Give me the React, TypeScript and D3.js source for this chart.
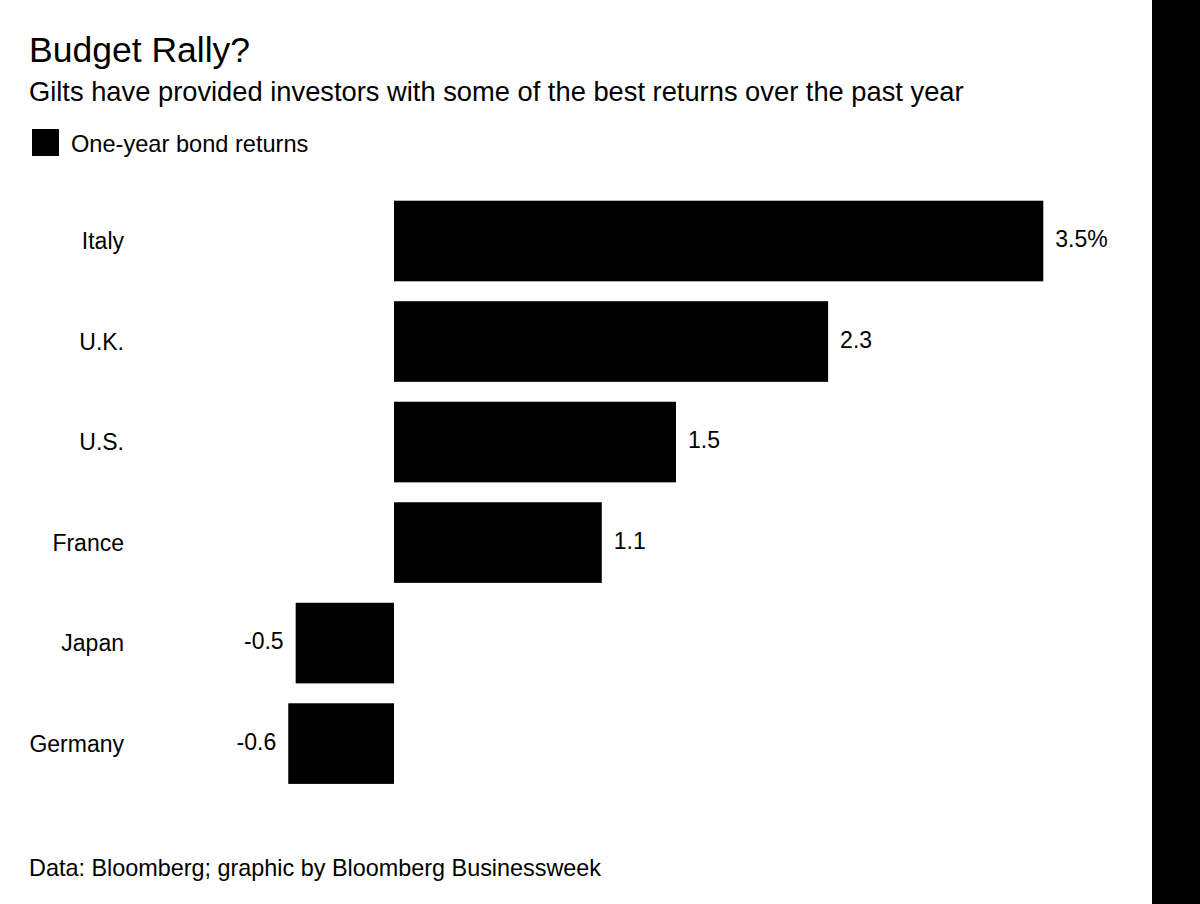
import React from "react";
import * as d3 from "d3";

const countries = ["Italy", "U.K.", "U.S.", "France", "Japan", "Germany"];
const returns = [3.5, 2.34, 1.52, 1.12, -0.53, -0.57];
const valueLabels = ["3.5%", "2.3", "1.5", "1.1", "-0.5", "-0.6"];

const W = 1200;
const H = 904;
const FONT = "'Liberation Sans', Arial, Helvetica, sans-serif";

export default function App() {
  const zeroX = 394;
  const x = d3.scaleLinear().domain([0, 3.5]).range([zeroX, 1043.3]);
  const y = d3
    .scaleBand<string>()
    .domain(countries)
    .range([200.7, 783.9])
    .paddingInner(0.198)
    .paddingOuter(0);

  return (
    <svg width={W} height={H} style={{ position: "absolute", left: 0, top: 0, background: "#fff" }} fontFamily={FONT}>
      <rect x={0} y={0} width={W} height={H} fill="#fff" />
      <rect x={1152} y={0} width={48} height={H} fill="#000" />
      <text x={29} y={62} fontSize={35.5} fill="#000">Budget Rally?</text>
      <text x={29} y={101} fontSize={27.3} fill="#000">Gilts have provided investors with some of the best returns over the past year</text>
      <rect x={32} y={129} width={27} height={27} fill="#000" />
      <text x={71} y={152} fontSize={23.6} fill="#000">One-year bond returns</text>
      {countries.map((c, i) => {
        const v = returns[i];
        const by = y(c)!;
        const bh = y.bandwidth();
        const x0 = Math.min(x(0), x(v));
        const x1 = Math.max(x(0), x(v));
        const cy = by + bh / 2;
        return (
          <g key={c}>
            <rect x={x0} y={by} width={x1 - x0} height={bh} fill="#000" />
            <text x={124} y={cy + 8} fontSize={23} textAnchor="end" fill="#000">{c}</text>
            <text
              x={v >= 0 ? x1 + 12 : x0 - 12}
              y={cy + 6}
              fontSize={23}
              textAnchor={v >= 0 ? "start" : "end"}
              fill="#000"
            >
              {valueLabels[i]}
            </text>
          </g>
        );
      })}
      <text x={29} y={876} fontSize={23.4} fill="#000">Data: Bloomberg; graphic by Bloomberg Businessweek</text>
    </svg>
  );
}
